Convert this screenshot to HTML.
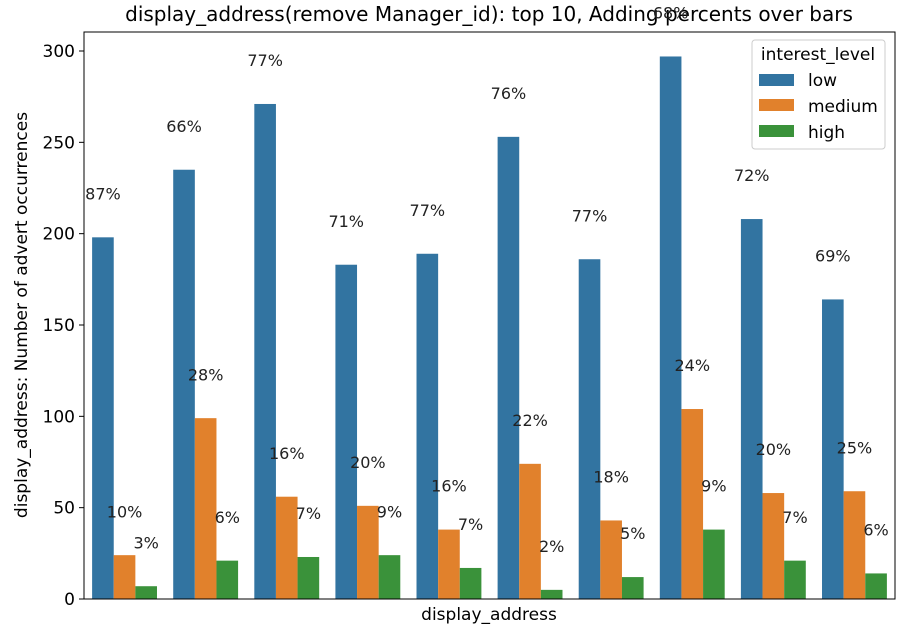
<!DOCTYPE html>
<html><head><meta charset="utf-8"><style>
body{margin:0;background:#fff;font-family:"Liberation Sans","DejaVu Sans",sans-serif;}
text{font-family:"DejaVu Sans","Liberation Sans",sans-serif;}
</style></head><body>
<svg id="chart" width="908" height="633">
<text x="489" y="21" text-anchor="middle" font-size="20" fill="#000">display_address(remove Manager_id): top 10, Adding percents over bars</text>
<g id="plot"></g>
<text x="489" y="620" text-anchor="middle" font-size="17">display_address</text>
<text transform="translate(27,315) rotate(-90)" text-anchor="middle" font-size="17">display_address: Number of advert occurrences</text>
<g>
<rect x="752" y="40" width="133" height="109" rx="3" fill="#fff" stroke="#ccc"/>
<text x="818" y="60" text-anchor="middle" font-size="17">interest_level</text>
<rect x="759" y="74" width="35" height="12" fill="#3274a1"/><text x="808" y="86" font-size="17">low</text>
<rect x="759" y="99" width="35" height="12" fill="#e1812c"/><text x="808" y="112" font-size="17">medium</text>
<rect x="759" y="125" width="35" height="12" fill="#3a923a"/><text x="808" y="138" font-size="17">high</text>
</g>
</svg>
<script>
const categories=["a1","a2","a3","a4","a5","a6","a7","a8","a9","a10"];
const low=[198,235,271,183,189,253,186,297,208,164];
const medium=[24,99,56,51,38,74,43,104,58,59];
const high=[7,21,23,24,17,5,12,38,21,14];
const lowPct=["87%","66%","77%","71%","77%","76%","77%","68%","72%","69%"];
const mediumPct=["10%","28%","16%","20%","16%","22%","18%","24%","20%","25%"];
const highPct=["3%","6%","7%","9%","7%","2%","5%","9%","7%","6%"];
const yTicks=[0,50,100,150,200,250,300];
const L=84,R=895,T=32,B=599;
const y=v=>B-v*(B-51)/300;
const gw=(R-L)/categories.length;
const x=(i,s)=>L+gw*i+gw*0.1+s*gw*0.8/3;
const bw=gw*0.8/3;
const ns="http://www.w3.org/2000/svg";
const g=document.getElementById('plot');
function mk(t,a,txt){const e=document.createElementNS(ns,t);for(const k in a)e.setAttribute(k,a[k]);if(txt!=null)e.textContent=txt;g.appendChild(e);return e;}
const series=[[low,lowPct,"#3274a1","low"],[medium,mediumPct,"#e1812c","medium"],[high,highPct,"#3a923a","high"]];
series.forEach((s,si)=>{s[0].forEach((v,i)=>{
const r=mk('rect',{x:x(i,si),y:y(v),width:bw,height:B-y(v),fill:s[2]});


const t=mk('text',{x:x(i,si)+bw/2,y:y(v+24)+6,'text-anchor':'middle','font-size':16,fill:'#222'},s[1][i]);


});});
yTicks.forEach(v=>{
const l=mk('line',{x1:L-5,x2:L,y1:y(v),y2:y(v),stroke:'#000'});


const t=mk('text',{x:L-9,y:y(v)+6,'text-anchor':'end','font-size':17},String(v));


});
const fr=mk('rect',{x:L,y:T,width:R-L,height:B-T,fill:'none',stroke:'#000','stroke-width':1});


</script>
</body></html>
